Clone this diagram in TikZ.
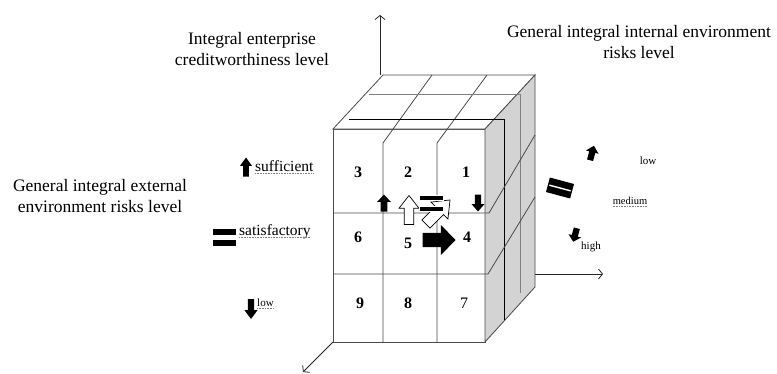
\documentclass[tikz,border=0pt]{standalone}
\usepackage{fontspec}
\setmainfont{Liberation Serif}
\usetikzlibrary{arrows.meta}

\definecolor{edgegray}{HTML}{4A4A4A}
\definecolor{sidegray}{HTML}{D3D3D3}

\tikzset{
  cubeline/.style={draw=edgegray, line width=0.8pt},
  axisline/.style={draw=black!85, line width=0.8pt, -{Straight Barb[length=4pt,width=10pt]}},
  title/.style={font=\fontsize{17.5}{21}\selectfont, align=center, inner sep=0pt},
  levellabel/.style={font=\fontsize{15.5}{18}\selectfont, inner sep=0pt, anchor=west},
  smalllabel/.style={font=\fontsize{11}{13}\selectfont, inner sep=0pt},
  cellnum/.style={font=\fontsize{16}{18}\selectfont\bfseries, inner sep=0pt},
  spellmark/.style={draw=gray, densely dotted, line width=0.6pt},
  % block arrow pointing up, unit size (y axis points down)
  blockarrow/.pic={\path[pic actions] (-0.24,0.5) -- (0.24,0.5) -- (0.24,-0.06)
      -- (0.5,-0.06) -- (0,-0.5) -- (-0.5,-0.06) -- (-0.24,-0.06) -- cycle;},
  % two separate bars of an equals sign, unit size
  eqbars/.pic={\path[pic actions] (-0.5,-0.5) rectangle (0.5,-0.17);
      \path[pic actions] (-0.5,0.17) rectangle (0.5,0.5);},
  % equals sign with a thin white gap
  eqtight/.pic={\fill[black] (-0.5,-0.5) rectangle (0.5,0.5);
      \draw[white, line width=1.4pt] (-0.44,0) -- (0.44,0);},
}

\begin{document}
\begin{tikzpicture}[x=1pt, y=-1pt]
\useasboundingbox (0,0) rectangle (777,373);

% cube corners
\coordinate (ftl) at (333,129);
\coordinate (ftr) at (485,129);
\coordinate (fbl) at (333,342);
\coordinate (fbr) at (485,342);
\coordinate (btl) at (383,75);
\coordinate (btr) at (535,75);
\coordinate (bbr) at (535,287);

% faces
\path[cubeline, fill=white] (ftl) rectangle (fbr);
\path[cubeline, fill=white] (ftl) -- (btl) -- (btr) -- (ftr) -- cycle;
\path[cubeline, fill=sidegray] (ftr) -- (btr) -- (bbr) -- (fbr) -- cycle;

% grid on the top and front faces
\draw[cubeline] (432,75) -- (383,143) -- (383,342);
\draw[cubeline] (487,75) -- (437,143) -- (437,342);
\draw[cubeline, draw=gray] (369,94) -- (520,94) -- (520,293);
\draw[cubeline, draw=black] (349,119) -- (504,119) -- (504,320);

% row dividers running on to the side face
\draw[cubeline] (333,213) -- (489,213) -- (535,135);
\draw[cubeline] (333,274) -- (488,274) -- (535,197);

% axes
\coordinate (ytop) at (380,15);
\coordinate (ybase) at (380,75);
\coordinate (xend) at (603,274);
\coordinate (xbase) at (535,274);
\coordinate (zend) at (303,372);
\draw[axisline] (ybase) -- (ytop);
\draw[axisline] (xbase) -- (xend);
\draw[axisline] (fbl) -- (zend);

% axis titles
\node[title] (tcredit) at (252,49) {Integral enterprise\\creditworthiness level};
\node[title] (tinternal) at (639,42) {General integral internal environment\\risks level};
\node[title] (texternal) at (100,196) {General integral external\\environment risks level};

% cell numbers
\node[cellnum] (c3) at (358,172) {3};
\node[cellnum] (c2) at (408,172) {2};
\node[cellnum] (c1) at (466,172) {1};
\node[cellnum] (c6) at (358,237) {6};
\node[cellnum] (c5) at (408,243) {5};
\node[cellnum] (c4) at (467,237) {4};
\node[cellnum] (c9) at (360,303) {9};
\node[cellnum] (c8) at (408,303) {8};
\node[cellnum, font=\fontsize{16}{18}\selectfont] (c7) at (464,303) {7};

% external risk levels
\pic[fill=black, xscale=12, yscale=19] at (246,167) {blockarrow};
\node[levellabel] (lsuff) at (255,166) {sufficient};
\pic[fill=black, xscale=23, yscale=17] at (224.5,237.5) {eqbars};
\node[levellabel] (lsat) at (239,232) {satisfactory};
\pic[fill=black, rotate=180, xscale=13, yscale=20] at (251,309) {blockarrow};
\node[smalllabel, anchor=west] (llow) at (257,303) {low};
\draw[spellmark] ([yshift=-2pt]lsuff.base west) -- ([yshift=-2pt]lsuff.base east);
\draw[spellmark] ([yshift=-2pt]lsat.base west) -- ([yshift=-2pt]lsat.base east);
\draw[spellmark] ([yshift=-1.5pt]llow.base west) -- ([yshift=-1.5pt]llow.base east);

% internal risk levels
\pic[fill=black, rotate=-15, xscale=13, yscale=15] at (592,153) {blockarrow};
\node[smalllabel] (rlow) at (648,161) {low};
\pic[rotate=-15, xscale=25, yscale=15] at (560,188) {eqtight};
\node[smalllabel, font=\fontsize{10.5}{12}\selectfont] (rmed) at (630,201) {medium};
\draw[spellmark] ([yshift=-1.5pt]rmed.base west) -- ([yshift=-1.5pt]rmed.base east);
\pic[fill=black, rotate=165, xscale=13, yscale=14] at (575,235) {blockarrow};
\node[smalllabel] (rhigh) at (591,247) {high};

% creditworthiness changes inside the cube
\pic[fill=black, xscale=14, yscale=17] at (384,203) {blockarrow};
\pic[fill=white, draw=black, line width=0.7pt, xscale=20, yscale=29] at (409,210) {blockarrow};
\pic[fill=white, draw=black, line width=0.7pt, rotate=-45, xscale=24, yscale=34] at (438,212) {blockarrow};
\pic[fill=black, draw=white, line width=0.6pt, xscale=24, yscale=16] at (431.5,203.5) {eqbars};
\pic[fill=black, rotate=180, xscale=13, yscale=17] at (478,203) {blockarrow};
\pic[fill=black, rotate=-90, xscale=30, yscale=33] at (439,240) {blockarrow};

\end{tikzpicture}
\end{document}
